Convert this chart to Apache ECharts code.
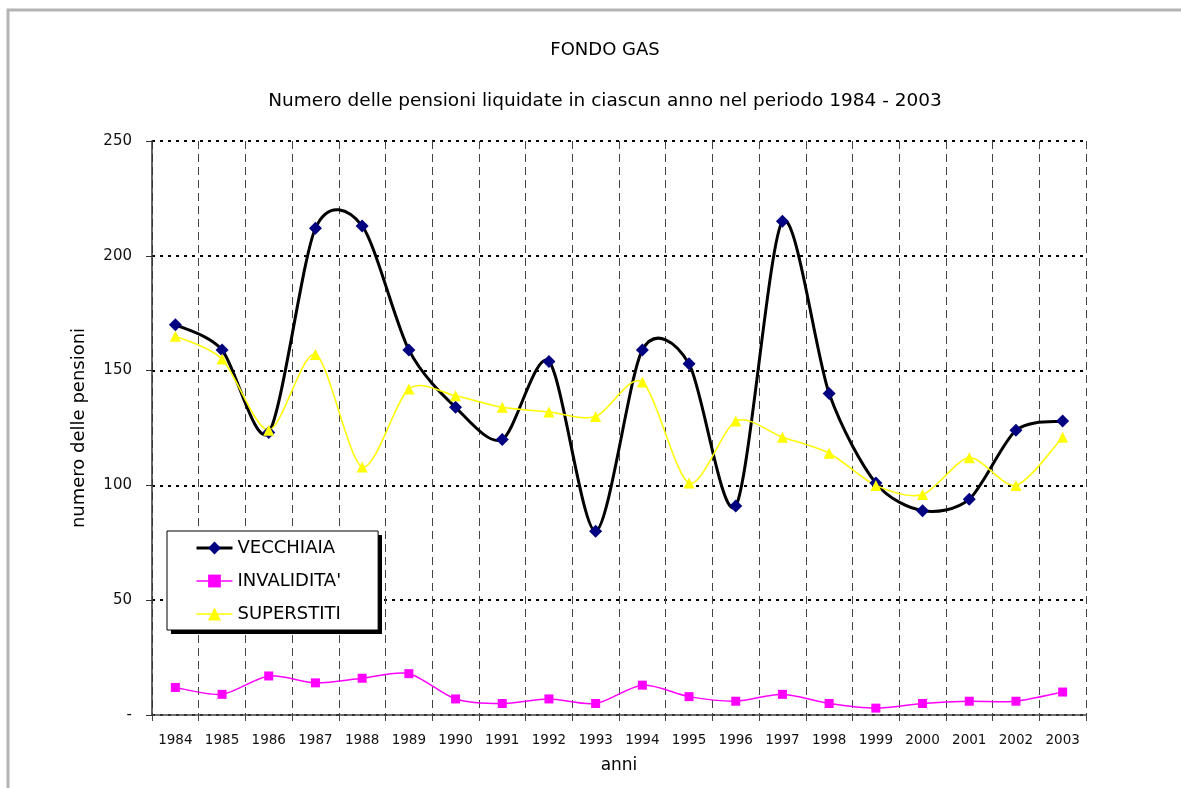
<!DOCTYPE html>
<html>
<head>
<meta charset="utf-8">
<title>FONDO GAS</title>
<script src="https://cdn.jsdelivr.net/npm/echarts@6/dist/echarts.min.js"></script>
<style>
  html, body { margin: 0; padding: 0; background: #fff; }
  #chart { width: 1181px; height: 788px; }
</style>
</head>
<body>
<div id="chart"></div>
<script>
// anni
const years = ['1984', '1985', '1986', '1987', '1988', '1989', '1990', '1991', '1992', '1993',
  '1994', '1995', '1996', '1997', '1998', '1999', '2000', '2001', '2002', '2003'];

// pensioni liquidate per tipo
const vecchiaia = [170, 159, 123, 212, 213, 159, 134, 120, 154, 80, 159, 153, 91, 215, 140, 101, 89, 94, 124, 128];
const invalidita = [12, 9, 17, 14, 16, 18, 7, 5, 7, 5, 13, 8, 6, 9, 5, 3, 5, 6, 6, 10];
const superstiti = [165, 155, 124, 157, 108, 142, 139, 134, 132, 130, 145, 101, 128, 121, 114, 100, 96, 112, 100, 121];

const yTicks = [0, 50, 100, 150, 200, 250];

const font = 'DejaVu Sans';
const chart = echarts.init(document.getElementById('chart'));

// curva smussata stile Excel (Catmull-Rom), ogni tratto i -> i+1
function curve(values, color, width) {
  return {
    type: 'custom',
    coordinateSystem: 'cartesian2d',
    silent: true,
    z: 2,
    encode: { x: 0, y: 1 },
    data: values.map((v, i) => [i, v]),
    renderItem(params, api) {
      const i = params.dataIndex;
      const n = values.length;
      if (i >= n - 1) return null;
      const pt = j => {
        const k = Math.max(0, Math.min(n - 1, j));
        return api.coord([k, values[k]]);
      };
      const p0 = pt(i - 1), p1 = pt(i), p2 = pt(i + 1), p3 = pt(i + 2);
      const t = 0.14;
      return {
        type: 'bezierCurve',
        shape: {
          x1: p1[0], y1: p1[1],
          cpx1: p1[0] + (p2[0] - p0[0]) * t, cpy1: p1[1] + (p2[1] - p0[1]) * t,
          cpx2: p2[0] - (p3[0] - p1[0]) * t, cpy2: p2[1] - (p3[1] - p1[1]) * t,
          x2: p2[0], y2: p2[1]
        },
        style: { fill: null, stroke: color, lineWidth: width, lineCap: 'round' }
      };
    }
  };
}

function markers(name, values, symbol, size, color) {
  return {
    name: name,
    type: 'line',
    z: 3,
    data: values,
    symbol: symbol, symbolSize: size,
    lineStyle: { opacity: 0 },
    itemStyle: { color: color, borderWidth: 0 }
  };
}

chart.setOption({
  animation: false,
  backgroundColor: '#fff',
  textStyle: { fontFamily: font, color: '#000' },
  graphic: [{
    type: 'rect',
    shape: { x: 8, y: 10, width: 1400, height: 1000 },
    style: { fill: 'none', stroke: '#b3b3b3', lineWidth: 3 },
    silent: true
  }, {
    type: 'rect',
    z: 5,
    shape: { x: 171, y: 535, width: 211, height: 99 },
    style: { fill: '#000' },
    silent: true
  }],
  title: [{
    text: 'FONDO GAS',
    left: 600, top: 36, textAlign: 'center',
    textStyle: { fontFamily: font, fontSize: 18, fontWeight: 'normal', color: '#000' }
  }, {
    text: 'Numero delle pensioni liquidate in ciascun anno nel periodo 1984 - 2003',
    left: 600, top: 87, textAlign: 'center',
    textStyle: { fontFamily: font, fontSize: 18.5, fontWeight: 'normal', color: '#000' }
  }],
  legend: {
    orient: 'vertical',
    z: 10,
    left: 167, top: 531,
    padding: [8, 37, 7, 28],
    itemWidth: 36, itemHeight: 16, itemGap: 15,
    backgroundColor: '#fff',
    borderColor: '#000', borderWidth: 1,
    textStyle: { fontFamily: font, fontSize: 18, color: '#000' },
    data: [
      { name: 'VECCHIAIA', lineStyle: { opacity: 1, color: '#000', width: 3 } },
      { name: "INVALIDITA'", lineStyle: { opacity: 1, color: '#ff00ff', width: 1.5 } },
      { name: 'SUPERSTITI', lineStyle: { opacity: 1, color: '#ffff00', width: 1.5 } }
    ]
  },
  grid: { left: 152, top: 141, right: 95, bottom: 73, containLabel: false },
  xAxis: {
    type: 'category',
    data: years,
    boundaryGap: true,
    name: 'anni', nameLocation: 'middle', nameGap: 42,
    nameTextStyle: { fontFamily: font, fontSize: 17, color: '#000' },
    axisLine: { lineStyle: { color: '#444', width: 1.5 } },
    axisTick: { show: true, length: 6, lineStyle: { color: '#444' } },
    axisLabel: { fontFamily: font, fontSize: 13.5, color: '#111', margin: 18, interval: 0 },
    splitLine: { show: true, lineStyle: { color: '#444', width: 1, type: [8, 5] } }
  },
  yAxis: {
    type: 'value',
    min: yTicks[0], max: yTicks[yTicks.length - 1], interval: 50,
    name: 'numero delle pensioni', nameLocation: 'middle', nameGap: 64, nameRotate: 90,
    nameTextStyle: { fontFamily: font, fontSize: 18, color: '#000' },
    axisLine: { show: true, lineStyle: { color: '#333', width: 1.5 } },
    axisTick: { show: true, length: 6, lineStyle: { color: '#333' } },
    axisLabel: {
      fontFamily: font, fontSize: 15, color: '#111', margin: 20,
      formatter: v => (v === 0 ? '-' : String(v))
    },
    splitLine: { show: true, lineStyle: { color: '#000', width: 2, type: [3, 5] } }
  },
  series: [
    curve(vecchiaia, '#000', 3),
    curve(invalidita, '#ff00ff', 1.5),
    curve(superstiti, '#ffff00', 1.5),
    markers('VECCHIAIA', vecchiaia, 'diamond', 13, '#000080'),
    markers("INVALIDITA'", invalidita, 'rect', 9, '#ff00ff'),
    markers('SUPERSTITI', superstiti, 'triangle', 11, '#ffff00')
  ]
});
</script>
</body>
</html>
